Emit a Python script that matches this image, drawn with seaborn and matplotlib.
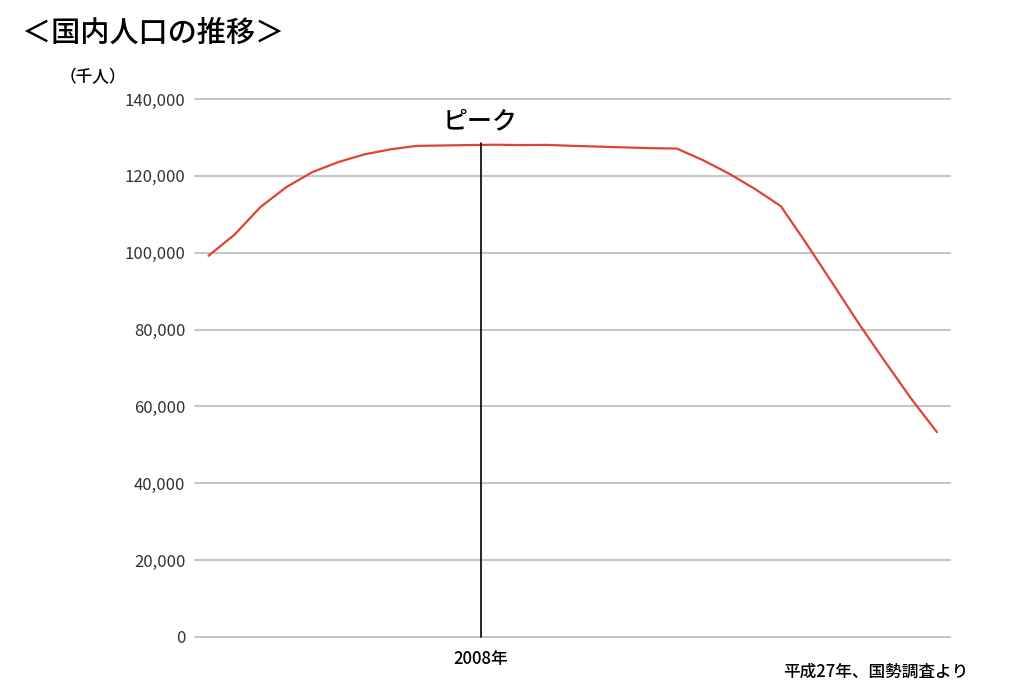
import seaborn as sns
import matplotlib.pyplot as plt
import pandas as pd

# years (category axis, only 2008 is labelled)
years = [1965, 1970, 1975, 1980, 1985, 1990, 1995, 2000, 2005,
         2006, 2007, 2008, 2009, 2010, 2011, 2012, 2013, 2014, 2015,
         2020, 2025, 2030, 2035, 2045, 2055, 2065, 2075, 2085, 2095]
# population (thousand people)
population = [99200, 104700, 111900, 117100, 121000, 123600, 125600, 126900, 127800,
              127900, 128000, 128100, 128000, 128050, 127800, 127600, 127400, 127200, 127100,
              124100, 120600, 116600, 112100, 102200, 91900, 81500, 71700, 62100, 53300]
yticks = [0, 20000, 40000, 60000, 80000, 100000, 120000, 140000]

df = pd.DataFrame({'idx': range(len(years)), 'year': years, 'pop': population})

sns.set_style('white')
plt.rcParams['font.family'] = ['Noto Sans CJK JP', 'DejaVu Sans']

fig = plt.figure(figsize=(10.24, 6.97), dpi=100)
ax = fig.add_axes([0.1904, 0.0861, 0.7373, 0.7719])

sns.lineplot(data=df, x='idx', y='pop', color='#db4437', linewidth=1.6, ax=ax)

ax.set_xlim(-0.52, 28.5)
ax.set_ylim(0, 140000)
ax.set_yticks(yticks)
ax.set_yticklabels([f'{v:,}' for v in yticks], fontsize=12, color='#333333')
ax.tick_params(axis='y', length=0, pad=7)
ax.set_xticks([])
ax.set_xlabel('')
ax.set_ylabel('')
ax.yaxis.grid(True, color='#c6c6c6', linewidth=1.5)
for gl in ax.get_ygridlines():
    gl.set_clip_on(False)
ax.set_axisbelow(True)
for s in ax.spines.values():
    s.set_visible(False)

# peak marker
peak_x = 10.46
ax.plot([peak_x, peak_x], [0, 128600], color='black', linewidth=1.2, clip_on=False)
ax.text(peak_x, 134300, 'ピーク', fontsize=18, ha='center', va='center', color='black',
        fontweight='medium')
ax.text(peak_x, -3500, '2008年', fontsize=12, ha='center', va='top', color='black',
        fontweight='medium')

fig.text(0.021, 0.952, '＜国内人口の推移＞', fontsize=21, ha='left', va='center', color='black',
         fontweight='medium')
fig.text(0.058, 0.890, '（千人）', fontsize=12, ha='left', va='center', color='black',
         fontweight='medium')
fig.text(0.946, 0.036, '平成27年、国勢調査より', fontsize=12, ha='right', va='center', color='black',
         fontweight='medium')

fig.savefig('out.png', dpi=100)
